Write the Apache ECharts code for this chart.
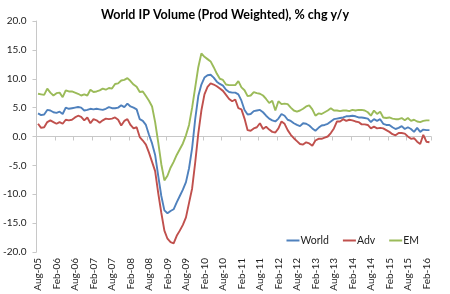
<!DOCTYPE html>
<html><head><meta charset="utf-8">
<script src="https://cdn.jsdelivr.net/npm/echarts@6/dist/echarts.min.js"></script>
<style>html,body{margin:0;padding:0;background:#fff}#c{width:450px;height:294px}</style>
</head><body><div id="c"></div>
<script>
const months = (function(){
  const names = ['Jan','Feb','Mar','Apr','May','Jun','Jul','Aug','Sep','Oct','Nov','Dec'];
  const out = []; let mi = 7, yr = 5;
  for (let i = 0; i < 128; i++) { out.push(names[mi] + '-' + String(yr).padStart(2,'0')); mi++; if (mi === 12) { mi = 0; yr++; } }
  return out;
})();
const world = [4.0,3.7,3.8,4.6,4.5,4.2,4.1,4.3,3.9,5.0,4.8,4.9,5.0,5.1,5.0,4.5,4.6,4.8,4.7,4.8,4.7,4.6,4.8,5.1,4.9,4.9,5.0,5.4,5.1,5.7,5.2,5.0,4.7,3.0,2.7,2.0,0.3,-1.2,-3.2,-6.8,-10.3,-12.8,-13.3,-12.9,-12.6,-11.4,-10.3,-9.2,-7.9,-5.5,-2.0,3.0,7.0,9.0,10.2,10.6,10.7,10.2,9.5,9.1,8.8,8.1,7.7,7.6,7.6,7.3,6.2,4.6,3.8,3.9,4.4,4.5,4.6,4.2,3.6,3.1,2.8,2.6,3.1,3.9,3.6,2.9,2.7,2.3,2.0,1.8,2.3,2.2,1.9,1.4,1.0,1.5,1.9,2.0,2.2,2.6,3.0,3.1,3.2,3.3,3.5,3.5,3.6,3.5,3.3,3.3,3.2,3.1,2.5,3.0,2.7,3.0,2.2,2.0,2.0,1.6,1.3,1.5,1.8,1.3,1.6,1.3,0.8,1.5,0.8,1.2,1.1,1.1];
const adv = [2.2,1.5,1.6,2.5,2.8,2.5,2.2,2.5,2.2,2.9,2.8,2.9,3.3,3.6,3.4,2.8,3.3,2.3,3.0,2.8,2.4,2.8,3.1,3.0,3.1,3.3,2.9,1.9,2.7,3.0,2.0,1.4,1.6,-0.1,-0.7,-1.4,-2.8,-4.4,-6.0,-9.8,-13.2,-16.3,-17.7,-18.3,-18.5,-17.2,-16.3,-15.3,-14.0,-11.5,-9.0,-4.5,0.5,4.5,7.3,8.6,9.2,9.0,8.7,8.3,7.9,7.2,6.5,6.1,6.4,4.9,4.7,3.1,1.1,1.0,1.4,1.6,2.3,1.3,1.7,1.2,0.8,0.7,1.4,2.6,2.2,1.1,0.3,-0.3,-0.8,-1.3,-1.4,-1.0,-1.2,-1.6,-0.7,-0.4,-0.4,-0.2,0.0,0.6,1.4,2.6,2.6,3.0,2.7,2.9,2.8,2.6,2.5,2.1,2.1,2.0,1.4,1.7,1.4,1.5,1.4,1.1,0.8,0.4,0.2,0.6,0.6,0.5,0.0,-0.4,-0.3,-0.9,-1.3,0.3,-0.9,-1.0];
const em = [7.4,7.3,7.2,8.3,7.6,7.1,7.5,7.6,6.8,8.0,7.8,7.8,7.6,7.4,7.1,7.3,7.1,8.1,7.7,7.8,8.0,8.3,8.1,8.4,8.3,9.1,9.2,9.7,9.8,10.1,9.6,9.0,8.6,7.7,7.8,7.0,6.2,5.2,2.5,-1.0,-4.8,-7.6,-6.8,-5.4,-4.4,-3.2,-2.2,-1.2,0.2,2.0,5.0,8.5,12.0,14.4,13.8,13.4,13.0,12.0,10.9,10.0,9.8,9.0,8.9,8.9,8.9,9.6,8.5,8.0,7.0,7.1,7.7,7.5,7.4,7.1,6.5,5.8,6.2,4.5,6.1,5.6,5.7,5.6,5.0,4.5,4.3,4.5,4.8,5.2,5.4,4.7,3.6,4.0,3.9,4.2,4.5,4.9,4.5,4.5,4.4,4.5,4.5,4.4,4.6,4.5,4.6,4.6,4.5,4.2,3.6,4.5,3.9,4.3,3.3,3.2,3.3,3.1,3.0,3.0,3.2,2.8,3.2,2.7,2.9,2.6,2.5,2.7,2.8,2.8];
const seriesNames = ['World','Adv','EM'];
const colors = ['#4F81BD','#C0504D','#9BBB59'];
const yTicks = {min:-20, max:20, step:5};
const titleText = 'World IP Volume (Prod Weighted), % chg y/y';

const FONT = 'Lato, "Open Sans", sans-serif';
const chart = echarts.init(document.getElementById('c'), null, {renderer:'canvas'});
chart.setOption({
  animation: false,
  backgroundColor: '#fff',
  title: { text: titleText, left: 'center', top: 3, textStyle: { fontFamily: FONT, fontSize: 12.5, fontWeight: 'bold', color: '#000' } },
  legend: { data: seriesNames, right: 26, top: 230, itemWidth: 13, itemHeight: 2, itemGap: 14, icon: 'rect',
    textStyle: { fontFamily: FONT, fontSize: 10.5, color: '#222', padding:[0,0,0,-4] } },
  grid: { left: 36, right: 19, top: 21, bottom: 42 },
  xAxis: [
    { type: 'category', data: months, boundaryGap: true, position: 'bottom',
      axisLine: { show: false, onZero: false }, axisTick: { show: false },
      axisLabel: { interval: 5, rotate: 90, margin: 6, fontFamily: FONT, fontSize: 10, color: '#222' } },
    { type: 'category', data: months, boundaryGap: true, position: 'top',
      axisLine: { show: true, onZero: true, lineStyle: { color: '#c8c8c8', width: 1 } },
      axisTick: { show: true, interval: 5, inside: true, length: 4, lineStyle: { color: '#c8c8c8' } },
      axisLabel: { show: false } }
  ],
  yAxis: { type: 'value', min: yTicks.min, max: yTicks.max, interval: yTicks.step,
    axisLine: { show: true, lineStyle: { color: '#c8c8c8' } },
    axisTick: { show: true, length: 4, lineStyle: { color: '#c8c8c8' } },
    splitLine: { show: false },
    axisLabel: { margin: 10, fontFamily: FONT, fontSize: 10, color: '#222', formatter: v => v.toFixed(1) } },
  series: [world, adv, em].map((d, i) => ({
    name: seriesNames[i], type: 'line', data: d, xAxisIndex: 0, showSymbol: false, symbol: 'none',
    color: colors[i], lineStyle: { color: colors[i], width: 1.9 }
  }))
});
</script></body></html>
